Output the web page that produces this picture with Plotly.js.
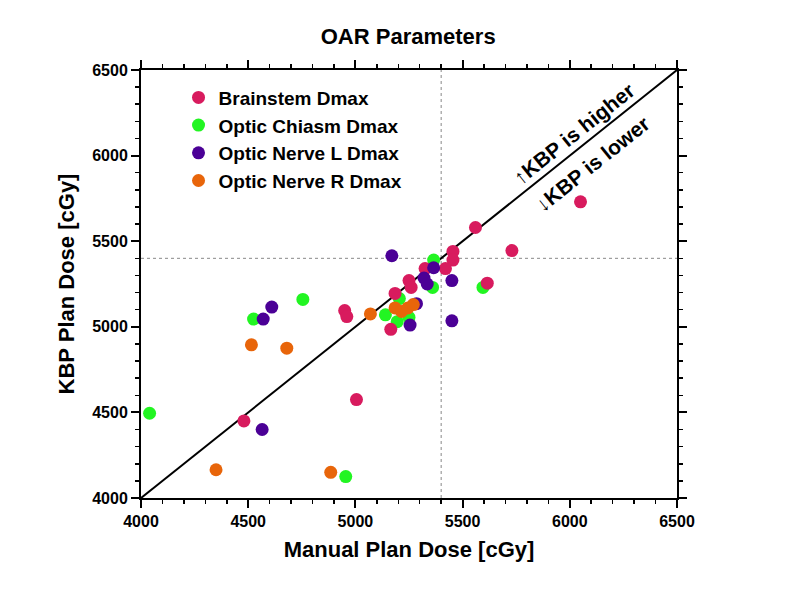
<!DOCTYPE html>
<html>
<head>
<meta charset="utf-8">
<script src="https://cdn.plot.ly/plotly-3.0.1.min.js"></script>
<style>
  body { margin: 0; background: #fff; }
  #chart { width: 785px; height: 600px; }
</style>
</head>
<body>
<div id="chart"></div>
<script>
// Manual plan dose (x) vs KBP plan dose (y), cGy
const brainstemX = [6050, 5730, 5560, 5615, 5455, 5455, 5420, 5325, 5250, 5260, 5185, 4950, 4960, 5165, 5005, 4480];
const brainstemY = [5730, 5445, 5580, 5255, 5440, 5390, 5340, 5340, 5270, 5230, 5195, 5095, 5060, 4985, 4575, 4450];

const chiasmX = [4040, 4525, 4755, 4955, 5140, 5195, 5250, 5205, 5365, 5360, 5595];
const chiasmY = [4495, 5045, 5160, 4125, 5070, 5030, 5055, 5165, 5390, 5230, 5230];

const nerveLX = [4565, 4570, 4610, 5170, 5365, 5320, 5335, 5450, 5450, 5255, 5285];
const nerveLY = [4400, 5045, 5115, 5415, 5345, 5285, 5250, 5270, 5035, 5010, 5135];

const nerveRX = [4350, 4885, 4515, 4680, 5070, 5185, 5215, 5245, 5270];
const nerveRY = [4165, 4150, 4895, 4875, 5075, 5110, 5090, 5110, 5130];

const seriesNames = ['Brainstem Dmax', 'Optic Chiasm Dmax', 'Optic Nerve L Dmax', 'Optic Nerve R Dmax'];
const seriesColors = ['#D81B5E', '#22F522', '#4B0096', '#E8650A'];

const axisRange = [4000, 6500];   // also the identity line
const thresholdDose = 5400;

const font = 'Arial, "Liberation Sans", sans-serif';

function pts(x, y, i, rank) {
    return {
        x: x, y: y,
        type: 'scatter',
        mode: 'markers',
        name: seriesNames[i],
        legendrank: rank,
        marker: { color: seriesColors[i], size: 13 }
    };
}

const identity = {
    x: axisRange, y: axisRange,
    type: 'scatter', mode: 'lines',
    line: { color: '#000', width: 2 },
    showlegend: false, hoverinfo: 'skip'
};

// green first so the pink dots sit on top of it like in the original
const data = [
    identity,
    pts(chiasmX, chiasmY, 1, 2),
    pts(brainstemX, brainstemY, 0, 1),
    pts(nerveLX, nerveLY, 2, 3),
    pts(nerveRX, nerveRY, 3, 4)
];

const axisCommon = {
    range: axisRange,
    dtick: 500,
    showline: true, linecolor: '#000', linewidth: 2,
    mirror: 'allticks',
    ticks: 'outside', ticklen: 8, tickwidth: 2, tickcolor: '#000',
    minor: { dtick: 100, ticks: 'outside', ticklen: 4, tickwidth: 1.5, tickcolor: '#000' },
    showgrid: false, zeroline: false,
    tickfont: { family: font, size: 16, color: '#000', weight: 'bold' }
};

const layout = {
    width: 785, height: 600,
    margin: { l: 141, r: 108, t: 70, b: 102 },
    paper_bgcolor: '#fff', plot_bgcolor: '#fff',
    title: {
        text: 'OAR Parameters',
        font: { family: font, size: 22, color: '#000', weight: 'bold' },
        x: 0.52, xanchor: 'center', y: 0.94, yanchor: 'middle'
    },
    xaxis: Object.assign({}, axisCommon, {
        title: { text: 'Manual Plan Dose [cGy]', standoff: 12,
                 font: { family: font, size: 22, color: '#000', weight: 'bold' } }
    }),
    yaxis: Object.assign({}, axisCommon, {
        title: { text: 'KBP Plan Dose [cGy]', standoff: 12,
                 font: { family: font, size: 22, color: '#000', weight: 'bold' } }
    }),
    legend: {
        x: 0.07, y: 0.98, xanchor: 'left', yanchor: 'top',
        bgcolor: 'rgba(0,0,0,0)',
        font: { family: font, size: 19, color: '#000', weight: 'bold' }
    },
    shapes: [
        { type: 'line', xref: 'x', yref: 'y', x0: thresholdDose, x1: thresholdDose, y0: axisRange[0], y1: axisRange[1],
          line: { color: '#888', width: 1, dash: '3px,3px' }, layer: 'below' },
        { type: 'line', xref: 'x', yref: 'y', x0: axisRange[0], x1: axisRange[1], y0: thresholdDose, y1: thresholdDose,
          line: { color: '#888', width: 1, dash: '3px,3px' }, layer: 'below' }
    ],
    annotations: [
        { text: '↑KBP is higher', xref: 'x', yref: 'y', x: 6020, y: 6128, showarrow: false,
          textangle: -38.6, font: { family: font, size: 21, color: '#000', weight: 'bold' } },
        { text: '↓KBP is lower', xref: 'x', yref: 'y', x: 6108, y: 5955, showarrow: false,
          textangle: -38.6, font: { family: font, size: 21, color: '#000', weight: 'bold' } }
    ]
};

Plotly.newPlot('chart', data, layout, { displayModeBar: false, staticPlot: true });
</script>
</body>
</html>
